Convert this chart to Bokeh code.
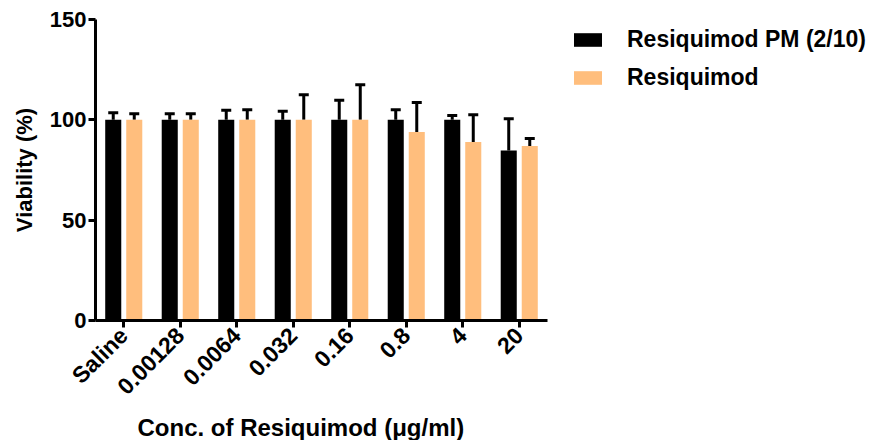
import math
from bokeh.plotting import figure
from bokeh.models import (ColumnDataSource, FactorRange, Range1d, Whisker, TeeHead,
                          Legend, LegendItem, FixedTicker, Title)
from bokeh.transform import dodge
from bokeh.embed import file_html
from bokeh.resources import INLINE

categories = ["Saline", "0.00128", "0.0064", "0.032", "0.16", "0.8", "4", "20"]
pm_mean = [100, 100, 100, 100, 100, 100, 100, 84.7]
pm_err = [3.5, 3.0, 4.8, 4.3, 9.7, 5.0, 2.2, 15.8]
free_mean = [100, 100, 100, 100, 100, 93.9, 88.9, 86.9]
free_err = [3.0, 3.0, 5.0, 12.5, 17.5, 14.8, 13.6, 3.8]
series_names = ["Resiquimod PM (2/10)", "Resiquimod"]
y_ticks = [0, 50, 100, 150]
x_title = "Conc. of Resiquimod (μg/ml)"
y_title = "Viability (%)"

FONT = "Liberation Sans"
BLACK = "#000000"
ORANGE = "#FFBE7D"

src = ColumnDataSource(dict(
    cat=categories,
    pm=pm_mean,
    pm_up=[m + e for m, e in zip(pm_mean, pm_err)],
    fr=free_mean,
    fr_up=[m + e for m, e in zip(free_mean, free_err)],
))

p = figure(x_range=FactorRange(factors=categories, range_padding=0),
           y_range=Range1d(0, 150),
           frame_width=452, frame_height=301,
           min_border_left=95, min_border_top=19, min_border_bottom=110, min_border_right=323,
           output_backend="svg", toolbar_location=None)

off = 0.186
bw = 0.284
r1 = p.vbar(x=dodge("cat", -off, range=p.x_range), top="pm", width=bw, source=src,
            fill_color=BLACK, line_color=None)
r2 = p.vbar(x=dodge("cat", off, range=p.x_range), top="fr", width=bw, source=src,
            fill_color=ORANGE, line_color=None)

for base_off, low, up in [(-off, "pm", "pm_up"), (off, "fr", "fr_up")]:
    w = Whisker(source=src, base=dodge("cat", base_off, range=p.x_range), lower=low, upper=up,
                line_width=3, line_color=BLACK,
                upper_head=TeeHead(size=10, line_width=3, line_color=BLACK), lower_head=None)
    p.add_layout(w)

p.xgrid.visible = False
p.ygrid.visible = False
p.outline_line_color = None
p.background_fill_color = "white"
p.border_fill_color = "white"

for ax in (p.xaxis[0], p.yaxis[0]):
    ax.axis_line_width = 3
    ax.major_tick_line_width = 3
    ax.major_tick_out = 7
    ax.major_tick_in = 0
    ax.minor_tick_line_color = None
    ax.major_label_text_font = FONT
    ax.major_label_text_font_style = "bold"
    ax.major_label_text_font_size = "22px"
    ax.major_label_text_color = BLACK
    ax.axis_label_text_font = FONT
    ax.axis_label_text_font_style = "bold"
    ax.axis_label_text_color = BLACK

p.yaxis[0].ticker = FixedTicker(ticks=y_ticks)
p.yaxis[0].major_label_standoff = 2
p.yaxis[0].axis_label = y_title
p.yaxis[0].axis_label_text_font_size = "22px"
p.yaxis[0].axis_label_standoff = 10
p.xaxis[0].major_label_orientation = math.pi / 4
p.xaxis[0].major_label_standoff = 4
p.xaxis[0].major_label_text_font_size = "23px"

xt = Title(text=x_title, align="left", offset=42, standoff=0,
           text_font=FONT, text_font_style="bold", text_font_size="24px", text_color=BLACK)
p.add_layout(xt, "below")

legend = Legend(items=[LegendItem(label=series_names[0], renderers=[r1]),
                       LegendItem(label=series_names[1], renderers=[r2])],
                location=(23, 229), margin=0, padding=0, spacing=11,
                glyph_width=35, glyph_height=17, label_standoff=22, label_height=22,
                border_line_color=None, background_fill_alpha=0,
                label_text_font=FONT, label_text_font_style="bold",
                label_text_font_size="23px", label_text_color=BLACK)
p.add_layout(legend, "right")

open("out.html", "w").write(file_html(p, INLINE))
